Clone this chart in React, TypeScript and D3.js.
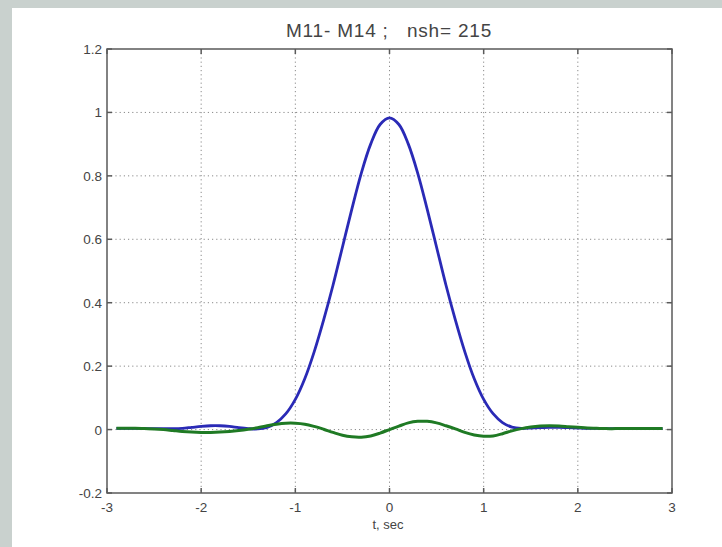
import React from "react";
import * as d3 from "d3";

const times = [
  -2.9, -2.8, -2.7, -2.6, -2.5, -2.4, -2.3, -2.2, -2.1, -2.0,
  -1.9, -1.8, -1.7, -1.6, -1.5, -1.4, -1.3, -1.2, -1.1, -1.0,
  -0.9, -0.8, -0.7, -0.6, -0.5, -0.4, -0.3, -0.2, -0.1, 0.0,
  0.1, 0.2, 0.3, 0.4, 0.5, 0.6, 0.7, 0.8, 0.9, 1.0,
  1.1, 1.2, 1.3, 1.4, 1.5, 1.6, 1.7, 1.8, 1.9, 2.0,
  2.1, 2.2, 2.3, 2.4, 2.5, 2.6, 2.7, 2.8, 2.9,
];

const blueSeries = [
  0.004, 0.004, 0.004, 0.003, 0.003, 0.003, 0.003, 0.004, 0.007, 0.010,
  0.012, 0.012, 0.010, 0.006, 0.003, 0.002, 0.007, 0.022, 0.050, 0.095,
  0.160, 0.245, 0.345, 0.455, 0.575, 0.695, 0.808, 0.900, 0.962, 0.983,
  0.962, 0.900, 0.808, 0.695, 0.575, 0.455, 0.345, 0.245, 0.160, 0.095,
  0.050, 0.022, 0.008, 0.004, 0.005, 0.006, 0.007, 0.007, 0.006, 0.005,
  0.004, 0.004, 0.003, 0.003, 0.003, 0.003, 0.003, 0.003, 0.003,
];

const greenSeries = [
  0.004, 0.004, 0.004, 0.003, 0.002, 0.0, -0.003, -0.006, -0.008, -0.009,
  -0.009, -0.008, -0.006, -0.003, 0.001, 0.006, 0.012, 0.017, 0.020, 0.020,
  0.017, 0.010, 0.001, -0.009, -0.018, -0.023, -0.024, -0.020, -0.011, 0.0,
  0.011, 0.021, 0.026, 0.026, 0.021, 0.012, 0.002, -0.009, -0.017, -0.021,
  -0.020, -0.013, -0.004, 0.003, 0.008, 0.011, 0.012, 0.011, 0.009, 0.007,
  0.005, 0.004, 0.003, 0.003, 0.003, 0.003, 0.003, 0.003, 0.003,
];

const xTicks = [-3, -2, -1, 0, 1, 2, 3];
const yTicks = [-0.2, 0, 0.2, 0.4, 0.6, 0.8, 1, 1.2];
const yTickLabels = ["-0.2", "0", "0.2", "0.4", "0.6", "0.8", "1", "1.2"];
const xTickLabels = ["-3", "-2", "-1", "0", "1", "2", "3"];

const titleText = "M11- M14 ;   nsh= 215";
const xLabelText = "t, sec";

export default function App() {
  const W = 722;
  const H = 547;
  const left = 107;
  const right = 672;
  const top = 49;
  const bottom = 493;

  const x = d3.scaleLinear().domain([-3, 3]).range([left, right]);
  const y = d3.scaleLinear().domain([-0.2, 1.2]).range([bottom, top]);

  const line = d3
    .line<number>()
    .x((_, i) => x(times[i]))
    .y((d) => y(d))
    .curve(d3.curveCatmullRom);

  const axisColor = "#5a5a5a";
  const gridColor = "#8a8a8a";
  const font = "'Liberation Sans', Arial, Helvetica, sans-serif";
  const tickLen = 5;

  return (
    <div style={{ position: "fixed", left: 0, top: 0 }}>
      <svg width={W} height={H} style={{ display: "block" }}>
        <rect x={0} y={0} width={W} height={H} fill="#c9d1ce" />
        <rect x={12} y={8} width={W - 12} height={H - 8} fill="#ffffff" />

        {xTicks.slice(1, -1).map((t) => (
          <line
            key={"gx" + t}
            x1={x(t)}
            x2={x(t)}
            y1={top}
            y2={bottom}
            stroke={gridColor}
            strokeWidth={1}
            strokeDasharray="1.2,3"
          />
        ))}
        {yTicks.slice(1, -1).map((t) => (
          <line
            key={"gy" + t}
            x1={left}
            x2={right}
            y1={y(t)}
            y2={y(t)}
            stroke={gridColor}
            strokeWidth={1}
            strokeDasharray="1.2,3"
          />
        ))}

        <path
          d={line(blueSeries) || ""}
          fill="none"
          stroke="#2a2ab6"
          strokeWidth={2.8}
          strokeLinejoin="round"
        />
        <path
          d={line(greenSeries) || ""}
          fill="none"
          stroke="#1f7a24"
          strokeWidth={3}
          strokeLinejoin="round"
        />

        <rect
          x={left}
          y={top}
          width={right - left}
          height={bottom - top}
          fill="none"
          stroke={axisColor}
          strokeWidth={1.5}
        />

        {xTicks.map((t) => (
          <g key={"tx" + t}>
            <line x1={x(t)} x2={x(t)} y1={bottom} y2={bottom - tickLen} stroke={axisColor} strokeWidth={1.5} />
            <line x1={x(t)} x2={x(t)} y1={top} y2={top + tickLen} stroke={axisColor} strokeWidth={1.5} />
          </g>
        ))}
        {yTicks.map((t) => (
          <g key={"ty" + t}>
            <line x1={left} x2={left + tickLen} y1={y(t)} y2={y(t)} stroke={axisColor} strokeWidth={1.5} />
            <line x1={right} x2={right - tickLen} y1={y(t)} y2={y(t)} stroke={axisColor} strokeWidth={1.5} />
          </g>
        ))}

        {xTicks.map((t, i) => (
          <text
            key={"lx" + t}
            x={x(t)}
            y={512}
            textAnchor="middle"
            fontFamily={font}
            fontSize={13.5}
            fill="#444"
          >
            {xTickLabels[i]}
          </text>
        ))}
        {yTicks.map((t, i) => (
          <text
            key={"ly" + t}
            x={left - 5}
            y={y(t) + 5}
            textAnchor="end"
            fontFamily={font}
            fontSize={13.5}
            fill="#444"
          >
            {yTickLabels[i]}
          </text>
        ))}

        <text
          x={388}
          y={529}
          textAnchor="middle"
          fontFamily={font}
          fontSize={13}
          fill="#444"
        >
          {xLabelText}
        </text>

        <text
          x={389}
          y={37}
          textAnchor="middle"
          fontFamily={font}
          fontSize={19}
          letterSpacing={0.8}
          fill="#444"
          style={{ whiteSpace: "pre" }}
        >
          {titleText}
        </text>
      </svg>
    </div>
  );
}
